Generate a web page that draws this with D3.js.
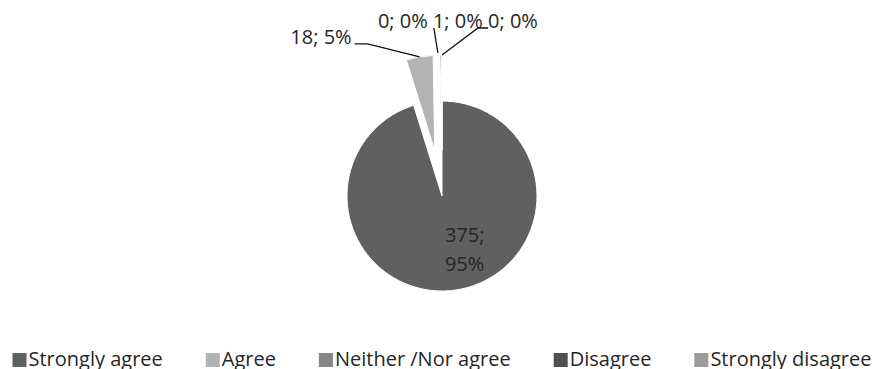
<!DOCTYPE html>
<html>
<head>
<meta charset="utf-8">
<script src="https://cdn.jsdelivr.net/npm/d3@7"></script>
<style>
  html, body { margin: 0; padding: 0; background: #fff; }
  svg { display: block; }
  text { font-family: "Open Sans", "Liberation Sans", sans-serif; fill: #262626; }
</style>
</head>
<body>
<svg id="chart" width="877" height="369"></svg>
<script>
// Survey responses
const categories = ["Strongly agree", "Agree", "Neither /Nor agree", "Disagree", "Strongly disagree"];
const counts = [375, 18, 0, 1, 0];
const percentLabels = ["95%", "5%", "0%", "0%", "0%"];
const sliceColors = ["#606060", "#b3b3b3", "#868686", "#4f4f4f", "#9a9a9a"];

const W = 877, H = 369;
const cx = 442, cy = 196, radius = 95;
const explode = 46;          // pull-out distance for the smaller slices
const fontSize = 20;

const svg = d3.select("#chart");

const data = categories.map((c, i) => ({ name: c, value: counts[i], pct: percentLabels[i], color: sliceColors[i], i }));

const pie = d3.pie().value(d => d.value).sort(null).startAngle(0).endAngle(2 * Math.PI);
const arcs = pie(data);
const arc = d3.arc().innerRadius(0).outerRadius(radius);

// Offset of each slice along its bisector (the dominant slice stays in place)
function offsetOf(a) {
  if (a.index === 0) return [0, 0];
  const mid = (a.startAngle + a.endAngle) / 2;
  return [Math.sin(mid) * explode, -Math.cos(mid) * explode];
}
// Point on the outer rim at the slice bisector, after the pull-out
function rimPoint(a) {
  const mid = (a.startAngle + a.endAngle) / 2;
  const [ox, oy] = offsetOf(a);
  return [cx + ox + Math.sin(mid) * radius, cy + oy - Math.cos(mid) * radius];
}

const g = svg.append("g");
g.selectAll("path.slice")
  .data(arcs)
  .join("path")
  .attr("class", "slice")
  .attr("transform", d => { const [ox, oy] = offsetOf(d); return `translate(${cx + ox},${cy + oy})`; })
  .attr("d", arc)
  .attr("fill", d => d.data.color)
  .attr("stroke", "#fff")
  .attr("stroke-width", 1);

// Label placement relative to each slice's rim point
const labelPlacement = [
  null,
  { dx: -68, dy: -13, anchor: "end",   leader: "elbowRight" },
  { dx: -12, dy: -27, anchor: "end",   leader: null },
  { dx: -8,  dy: -27, anchor: "start", leader: "straight" },
  { dx: 46,  dy: -27, anchor: "start", leader: "elbowLeft" }
];

const labels = svg.append("g").attr("font-size", fontSize);
const leaders = svg.append("g").attr("fill", "none").attr("stroke", "#111").attr("stroke-width", 1.3);

arcs.forEach(a => {
  const d = a.data;
  const text = `${d.value}; ${d.pct}`;
  if (a.index === 0) {
    // label sits inside the large slice, split on two lines
    const c = d3.arc().innerRadius(radius * 0.62).outerRadius(radius * 0.62).centroid(a);
    const x = cx + c[0] - 6, y = cy + c[1] - 12;
    const t = labels.append("text").attr("x", x).attr("y", y);
    t.append("tspan").attr("x", x).text(`${d.value};`);
    t.append("tspan").attr("x", x).attr("dy", 29).text(d.pct);
    return;
  }
  const p = labelPlacement[a.index];
  const [rx, ry] = rimPoint(a);
  const lx = rx + p.dx, ly = ry + p.dy;
  labels.append("text").attr("x", lx).attr("y", ly).attr("text-anchor", p.anchor).text(text);
  if (p.leader === "elbowRight") {
    leaders.append("path").attr("d", d3.line()([[lx + 3, ly], [lx + 16, ly], [rx, ry]]));
  } else if (p.leader === "elbowLeft") {
    leaders.append("path").attr("d", d3.line()([[lx, ly], [lx - 10, ly], [rx, ry]]));
  } else if (p.leader === "straight") {
    leaders.append("path").attr("d", d3.line()([[lx + 1, ly], [rx - 3, ry - 2]]));
  }
});

// Legend along the bottom edge, centred under the pie
const legend = svg.append("g").attr("font-size", fontSize);
const sw = 14, swGap = 2, itemGap = 43, legendTop = 353;
const items = data.map(d => {
  const it = legend.append("g");
  it.append("rect").attr("width", sw).attr("height", sw).attr("y", legendTop).attr("fill", d.color);
  const t = it.append("text").attr("x", sw + swGap).attr("y", legendTop + 13).text(d.name);
  return { g: it, w: sw + swGap + t.node().getComputedTextLength() };
});
const total = d3.sum(items, d => d.w) + itemGap * (items.length - 1);
let x0 = cx - total / 2;
items.forEach(it => { it.g.attr("transform", `translate(${x0},0)`); x0 += it.w + itemGap; });
</script>
</body>
</html>
